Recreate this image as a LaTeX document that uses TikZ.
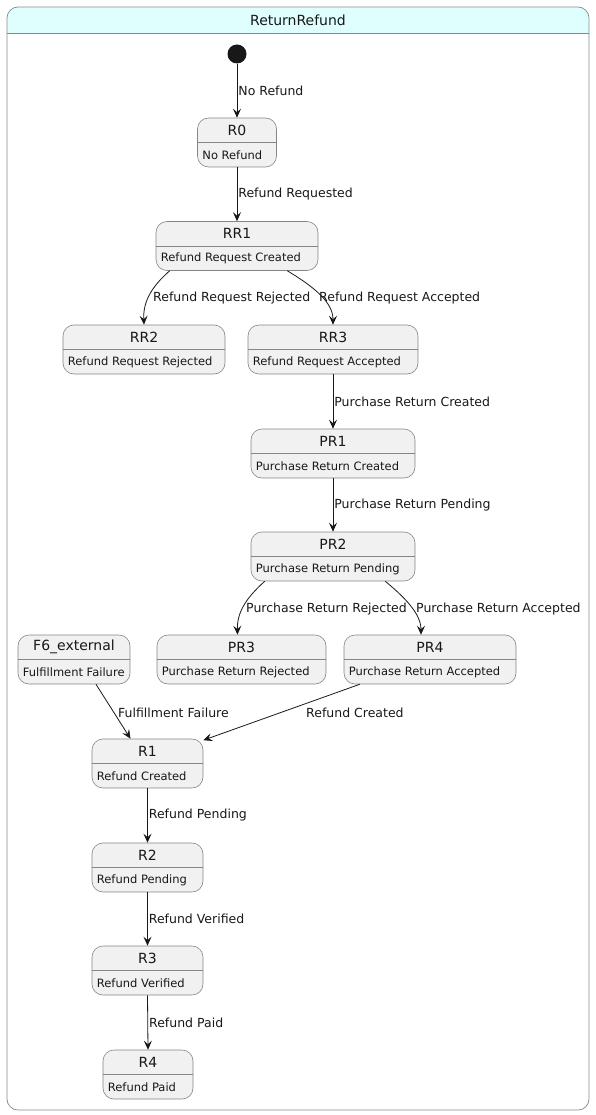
\documentclass[tikz,border=0pt]{standalone}
\usepackage{fontspec}
\setmainfont{DejaVu Sans}
\usetikzlibrary{arrows.meta,calc}
\definecolor{umlframe}{HTML}{7F8C8C}
\definecolor{umlhead}{HTML}{DFFFFF}
\definecolor{umlbox}{HTML}{F1F1F1}
\definecolor{umlborder}{HTML}{858585}
\definecolor{umlink}{HTML}{181818}

% one state: name, cx, cy, width, title, text
\newcommand{\umlstate}[6]{%
  \node[stbox, minimum width=#4] (#1) at (#2,#3) {};
  \draw[stsep] (#1.west) -- (#1.east);
  \node[sttitle] (#1-t) at ($(#1.north)+(0,12.5)$) {#5};
  \node[stsub] (#1-s) at ($(#1.west)+(5,12.5)$) {#6};
}

\begin{document}
\begin{tikzpicture}[
  x=1pt,
  y=-1pt,
  every node/.style={text=umlink},
  stbox/.style={draw=umlborder, fill=umlbox, rounded corners=11pt,
    minimum height=49pt, inner sep=0pt, line width=0.6pt},
  stsep/.style={umlborder, line width=0.6pt},
  sttitle/.style={font=\fontsize{14}{16}\selectfont, inner sep=0pt},
  stsub/.style={font=\fontsize{11.5}{13}\selectfont, anchor=west, inner sep=0pt},
  trans/.style={umlink, line width=0.8pt, -{Stealth[length=9pt, width=8pt, inset=3.5pt]}},
  tlabel/.style={font=\fontsize{12.5}{14}\selectfont, anchor=west, inner sep=1pt}
]
  \useasboundingbox (0,0) rectangle (595,1115);

  % ---- frame ----
  \begin{scope}
    \clip[rounded corners=11pt] (7,7) rectangle (589,1110);
    \fill[umlhead] (7,7) rectangle (589,33);
  \end{scope}
  \draw[umlframe, line width=0.7pt, rounded corners=11pt]
    (7,7) rectangle (589,1110);
  \draw[umlframe, line width=0.7pt] (7,33) -- (589,33);
  \node[font=\fontsize{14}{16}\selectfont] (title) at (298,20) {ReturnRefund};

  % ---- states ----
  \node[circle, fill=umlink, minimum size=19pt, inner sep=0pt] (start) at (237,54) {};
  \umlstate{R0}{237}{142.5}{79}{R0}{No Refund}
  \umlstate{RR1}{237}{246}{162}{RR1}{Refund Request Created}
  \umlstate{RR2}{144}{349.5}{162}{RR2}{Refund Request Rejected}
  \umlstate{RR3}{333}{349.5}{170}{RR3}{Refund Request Accepted}
  \umlstate{PR1}{333}{453.5}{164}{PR1}{Purchase Return Created}
  \umlstate{PR2}{333}{556.5}{164}{PR2}{Purchase Return Pending}
  \umlstate{F6}{74}{659.5}{112}{F6\_external}{Fulfillment Failure}
  \umlstate{PR3}{241.5}{659.5}{169}{PR3}{Purchase Return Rejected}
  \umlstate{PR4}{430}{659.5}{172}{PR4}{Purchase Return Accepted}
  \umlstate{R1}{147.5}{763.5}{111}{R1}{Refund Created}
  \umlstate{R2}{147.5}{867.5}{111}{R2}{Refund Pending}
  \umlstate{R3}{147.5}{970.5}{111}{R3}{Refund Verified}
  \umlstate{R4}{148}{1074.5}{90}{R4}{Refund Paid}

  % ---- transitions ----
  \draw[trans] (start) -- (R0.north)
    node[tlabel, pos=0.5] (l1) {No Refund};
  \draw[trans] (R0.south) -- (RR1.north)
    node[tlabel, pos=0.5] (l2) {Refund Requested};
  \draw[trans] ($(RR1.south west)+(14,0)$) .. controls (150,288) and (143,303) .. (RR2.north);
  \node[tlabel] (l3) at (152,298) {Refund Request Rejected};
  \draw[trans] ($(RR1.south east)+(-31,0)$) .. controls (316,288) and (333,303) .. (RR3.north);
  \node[tlabel] (l4) at (318,298) {Refund Request Accepted};
  \draw[trans] (RR3.south) -- (PR1.north)
    node[tlabel, pos=0.5] (l5) {Purchase Return Created};
  \draw[trans] (PR1.south) -- (PR2.north)
    node[tlabel, pos=0.5] (l6) {Purchase Return Pending};
  \draw[trans] ($(PR2.south west)+(14,0)$) .. controls (245,599) and (237,613) .. ($(PR3.north)+(-4,0)$);
  \node[tlabel] (l7) at (245,609) {Purchase Return Rejected};
  \draw[trans] ($(PR2.south east)+(-30,0)$) .. controls (403,596) and (421,613) .. ($(PR4.north)+(-9,0)$);
  \node[tlabel] (l8) at (415,609) {Purchase Return Accepted};
  \draw[trans] ($(F6.south)+(22,0)$) -- ($(R1.north)+(-17,0)$);
  \node[tlabel] (l9) at (117,713) {Fulfillment Failure};
  \draw[trans] ($(PR4.south west)+(16,0)$) -- ($(R1.north east)+(0,1.5)$);
  \node[tlabel] (l10) at (305,713) {Refund Created};
  \draw[trans] (R1.south) -- (R2.north)
    node[tlabel, pos=0.5] (l11) {Refund Pending};
  \draw[trans] (R2.south) -- (R3.north)
    node[tlabel, pos=0.5] (l12) {Refund Verified};
  \draw[trans] (R3.south) -- (R4.north)
    node[tlabel, pos=0.5] (l13) {Refund Paid};
\end{tikzpicture}
\end{document}
